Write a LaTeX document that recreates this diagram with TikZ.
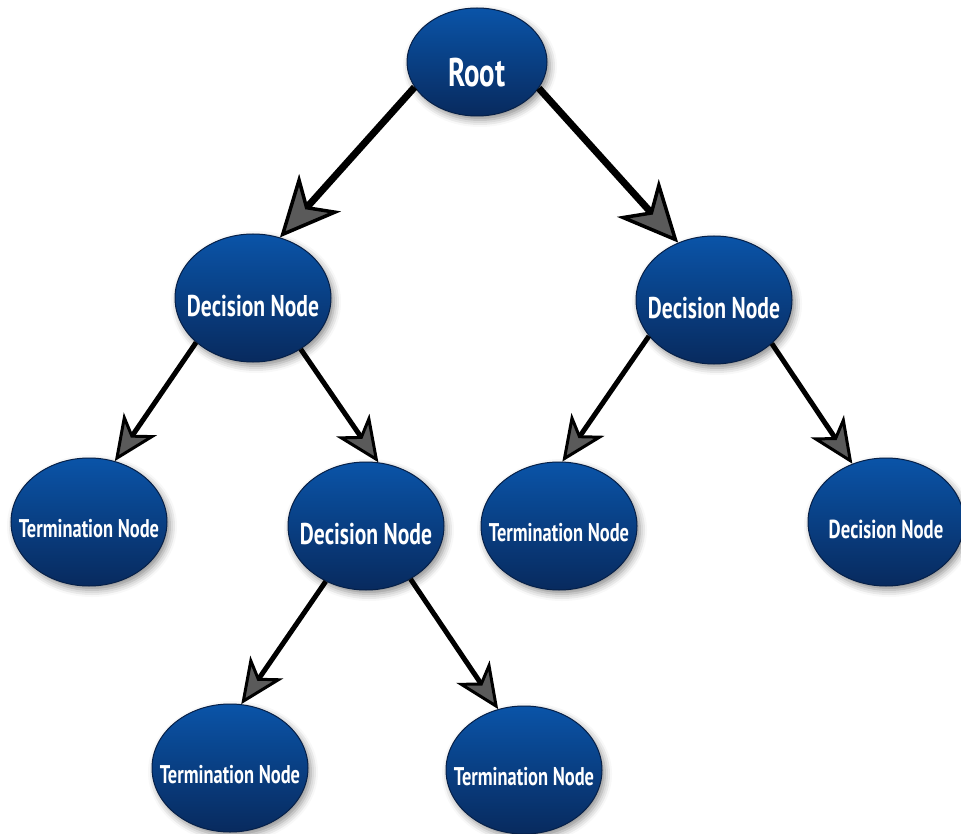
\documentclass[tikz,border=0pt]{standalone}
\usepackage{fontspec}
\setmainfont{PT Sans}[FakeStretch=0.72]
\usetikzlibrary{arrows.meta,shapes.geometric,shadows.blur}
\definecolor{nodetop}{RGB}{10,84,168}
\definecolor{nodebot}{RGB}{8,42,94}
\definecolor{noderim}{RGB}{6,32,72}
\definecolor{tipgray}{RGB}{90,90,90}
\newcommand{\nodetext}[1]{\makebox[0pt]{\rule{0pt}{1.25em}#1}}
\begin{document}
\begin{tikzpicture}[x=1pt,y=-1pt,
  treenode/.style={ellipse, draw=noderim, line width=1pt, top color=nodetop, bottom color=nodebot,
    text=white, inner sep=0pt, minimum width=156pt, minimum height=128pt,
    blur shadow={shadow xshift=3pt, shadow yshift=-4pt, shadow blur radius=7pt, shadow opacity=45}},
  rootnode/.style={treenode, minimum width=140pt, minimum height=108pt, font=\fontsize{40}{43}\selectfont\bfseries},
  decbig/.style={treenode, font=\fontsize{30}{33}\selectfont\bfseries},
  decsmall/.style={treenode, font=\fontsize{26}{29}\selectfont\bfseries},
  termnode/.style={treenode, font=\fontsize{25.6}{28}\selectfont\bfseries},
  rootarrow/.style={line width=7pt, -{Stealth[length=60pt, width=56pt, inset=18pt, fill=tipgray, line width=3.5pt]}},
  treearrow/.style={line width=5pt, -{Stealth[length=45pt, width=40pt, inset=13pt, fill=tipgray, line width=3pt]}}]
\useasboundingbox (0,0) rectangle (961,834);

\node[rootnode] (root)    at (477,62)  {\nodetext{Root}};
\node[decbig]   (dec-l)   at (253,298) {\nodetext{Decision Node}};
\node[decbig]   (dec-r)   at (714,300) {\nodetext{Decision Node}};
\node[termnode] (term-l)  at (89,522)  {\nodetext{Termination Node}};
\node[decbig]   (dec-m)   at (366,526) {\nodetext{Decision Node}};
\node[termnode] (term-m)  at (559,526) {\nodetext{Termination Node}};
\node[decsmall] (dec-rr)  at (886,522) {\nodetext{Decision Node}};
\node[termnode] (term-bl) at (230,768) {\nodetext{Termination Node}};
\node[termnode] (term-br) at (524,770) {\nodetext{Termination Node}};

\path[rootarrow]
(root.202) edge (dec-l.66)    (root.337) edge (dec-r.122);
\path[treearrow]
(dec-l.218) edge (term-l.67)   (dec-l.313) edge (dec-m.79)
(dec-m.234) edge (term-bl.80)  (dec-m.310) edge (term-br.113)
(dec-r.209) edge (term-m.87)   (dec-r.323) edge (dec-rr.120)
;
\end{tikzpicture}
\end{document}
